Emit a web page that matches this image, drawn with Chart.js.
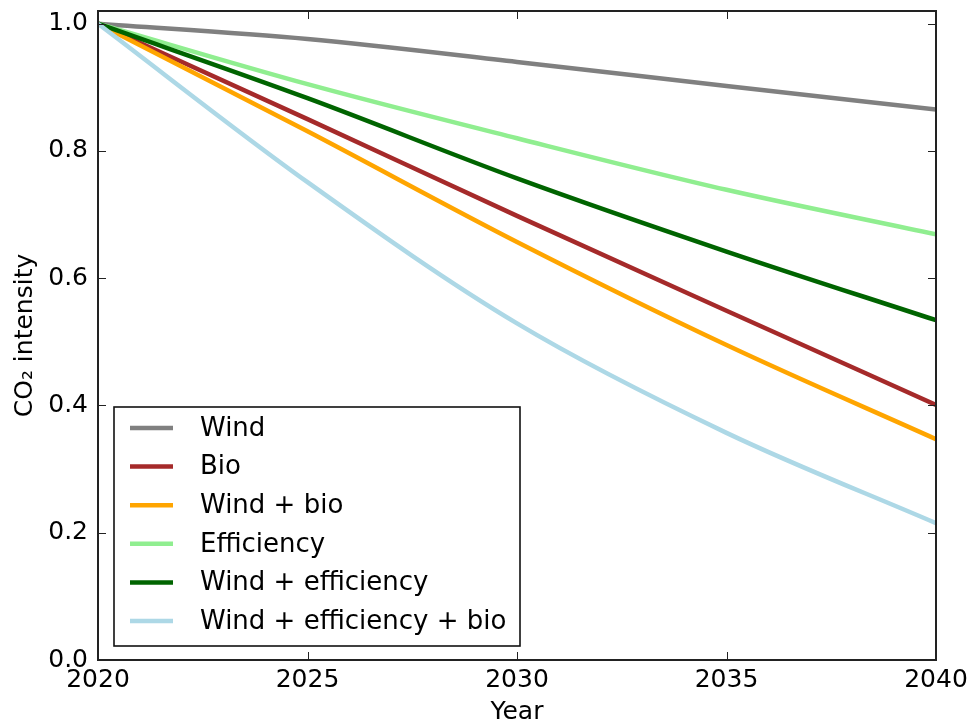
<!DOCTYPE html>
<html>
<head>
<meta charset="utf-8">
<script src="https://cdn.jsdelivr.net/npm/chart.js@4"></script>
<style>
  html, body { margin: 0; padding: 0; background: #fff; }
  #wrap { width: 971px; height: 727px; }
</style>
</head>
<body>
<div id="wrap"><canvas id="chart" width="971" height="727"></canvas></div>
<script>
// ------------------------------
// Data
// ------------------------------
const years = [2020, 2025, 2030, 2035, 2040];

const wind       = [1.0, 0.976, 0.940, 0.902, 0.865];
const bio        = [1.0, 0.850, 0.698, 0.549, 0.401];
const windBio    = [1.0, 0.831, 0.657, 0.495, 0.347];
const efficiency = [1.0, 0.905, 0.820, 0.739, 0.669];
const windEff    = [1.0, 0.883, 0.757, 0.642, 0.534];
const windEffBio = [1.0, 0.751, 0.529, 0.357, 0.215];

const seriesNames = ["Wind", "Bio", "Wind + bio", "Efficiency", "Wind + efficiency", "Wind + efficiency + bio"];
const seriesColors = ["#808080", "#a52a2a", "#ffa500", "#90ee90", "#006400", "#add8e6"];

const xTicks = [2020, 2025, 2030, 2035, 2040];
const yTicks = [0.0, 0.2, 0.4, 0.6, 0.8, 1.0];

const FONT = "'DejaVu Sans', sans-serif";

// ------------------------------
// Build datasets
// ------------------------------
const allSeries = [wind, bio, windBio, efficiency, windEff, windEffBio];

const datasets = allSeries.map(function (vals, i) {
    return {
        label: seriesNames[i],
        data: years.map(function (y, j) { return { x: y, y: vals[j] }; }),
        borderColor: seriesColors[i],
        backgroundColor: seriesColors[i],
        borderWidth: 4.5,
        pointRadius: 0,
        cubicInterpolationMode: "monotone",
        order: allSeries.length - i   // later series drawn on top, like matplotlib
    };
});

// ------------------------------
// Frame, inward ticks and legend box
// ------------------------------
const framePlugin = {
    id: "frame",
    afterDatasetsDraw(chart) {
        const ctx = chart.ctx;
        const a = chart.chartArea;
        const xs = chart.scales.x;
        const ys = chart.scales.y;
        const tl = 8;

        ctx.save();
        ctx.strokeStyle = "#222";
        ctx.lineWidth = 1;
        ctx.beginPath();
        xTicks.forEach(function (v) {
            const px = Math.round(xs.getPixelForValue(v)) + 0.5;
            ctx.moveTo(px, a.bottom); ctx.lineTo(px, a.bottom - tl);
            ctx.moveTo(px, a.top); ctx.lineTo(px, a.top + tl);
        });
        yTicks.forEach(function (v) {
            const py = Math.round(ys.getPixelForValue(v)) + 0.5;
            ctx.moveTo(a.left, py); ctx.lineTo(a.left + tl, py);
            ctx.moveTo(a.right, py); ctx.lineTo(a.right - tl, py);
        });
        ctx.stroke();

        ctx.lineWidth = 2;
        ctx.strokeRect(a.left, a.top, a.right - a.left, a.bottom - a.top);

        // legend box, lower left
        const bx = 114, by = 407, bw = 406, bh = 239;
        ctx.fillStyle = "#fff";
        ctx.fillRect(bx, by, bw, bh);
        ctx.lineWidth = 1.6;
        ctx.strokeStyle = "#111";
        ctx.strokeRect(bx, by, bw, bh);

        ctx.font = "26px " + FONT;
        ctx.textBaseline = "middle";
        ctx.textAlign = "left";
        chart.data.datasets.forEach(function (ds, i) {
            const cy = 428 + i * 38.6;
            ctx.strokeStyle = ds.borderColor;
            ctx.lineWidth = 4.5;
            ctx.beginPath();
            ctx.moveTo(130, cy);
            ctx.lineTo(173, cy);
            ctx.stroke();
            ctx.fillStyle = "#000";
            ctx.fillText(ds.label, 200, cy + 1);
        });
        ctx.restore();
    }
};

// ------------------------------
// Line Chart
// ------------------------------
new Chart(document.getElementById("chart"), {

    type: "line",

    data: { datasets: datasets },

    options: {
        responsive: false,
        animation: false,
        layout: { padding: { top: 11, right: 35, bottom: 0, left: 0 } },
        plugins: {
            legend: { display: false },
            tooltip: { enabled: false }
        },
        scales: {
            x: {
                type: "linear",
                min: 2020,
                max: 2040,
                afterBuildTicks: function (s) { s.ticks = xTicks.map(function (v) { return { value: v }; }); },
                afterFit: function (s) { s.height = 67; s.paddingLeft = 0; s.paddingRight = 0; },
                grid: { display: false, drawTicks: false },
                border: { display: false },
                ticks: {
                    color: "#000",
                    padding: 5,
                    maxRotation: 0,
                    font: { family: FONT, size: 25 },
                    callback: function (v) { return String(v); }
                },
                title: {
                    display: true,
                    text: "Year",
                    color: "#000",
                    padding: { top: 0, bottom: 0 },
                    font: { family: FONT, size: 25 }
                }
            },
            y: {
                min: 0,
                max: 1.02,
                afterBuildTicks: function (s) { s.ticks = yTicks.map(function (v) { return { value: v }; }); },
                afterFit: function (s) { s.width = 98; s.paddingTop = 0; s.paddingBottom = 0; },
                grid: { display: false, drawTicks: false },
                border: { display: false },
                ticks: {
                    color: "#000",
                    padding: 10,
                    font: { family: FONT, size: 25 },
                    callback: function (v) { return v.toFixed(1); }
                },
                title: {
                    display: true,
                    text: "CO₂ intensity",
                    color: "#000",
                    padding: { top: 10, bottom: 0 },
                    font: { family: FONT, size: 25 }
                }
            }
        }
    },

    plugins: [framePlugin]
});
</script>
</body>
</html>
